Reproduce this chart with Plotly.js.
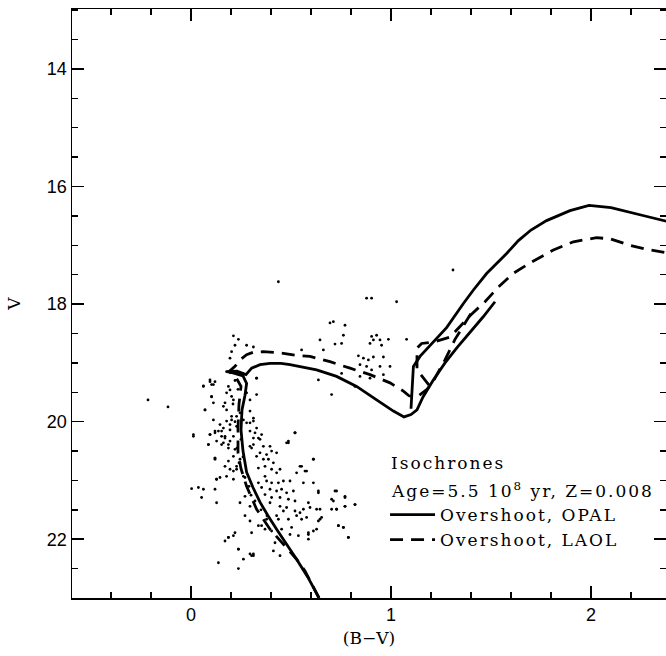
<!DOCTYPE html>
<html>
<head>
<meta charset="utf-8">
<script src="https://cdn.plot.ly/plotly-3.0.1.min.js"></script>
<style>
html,body{margin:0;padding:0;background:#fff;}
#chart{width:666px;height:656px;}
#chart .legend text, #chart .annotation-text{letter-spacing:2px;}
#chart .legend .scrollbox, #chart .legend g{clip-path:none !important;}
</style>
</head>
<body>
<div id="chart"></div>
<script>
// Isochrone: Overshoot, OPAL (solid). null = pen lift
const opalBV = [0.64,0.585,0.528,0.475,0.428,0.385,0.345,0.31,0.278,0.26,0.25,0.255,0.27,0.278,0.26,0.21,0.18,0.23,0.275,0.303,0.345,0.395,0.45,0.495,0.545,0.628,0.728,0.828,0.928,1.012,1.065,1.10,1.13,1.16,1.21,1.27,1.33,1.40,1.46,1.52,
  null,
  1.10,1.105,1.112,1.145,1.195,1.278,1.362,1.412,1.478,1.578,1.637,1.70,1.778,1.895,1.99,2.10,2.28,2.40];
const opalV = [23.0,22.65,22.34,22.08,21.83,21.6,21.37,21.12,20.86,20.5,20.14,19.8,19.55,19.35,19.22,19.17,19.15,19.14,19.2,19.09,19.03,19.01,19.01,19.03,19.06,19.12,19.23,19.40,19.63,19.82,19.92,19.88,19.80,19.58,19.30,19.0,18.74,18.46,18.22,17.96,
  null,
  19.78,19.5,19.06,18.89,18.70,18.40,17.99,17.76,17.48,17.14,16.92,16.74,16.58,16.41,16.32,16.36,16.51,16.61];

// Isochrone: Overshoot, LAOL (dashed)
const laolBV = [0.64,0.57,0.528,0.462,0.395,0.328,0.278,0.25,0.235,0.235,0.24,0.25,0.22,0.19,0.22,0.245,0.278,0.31,0.36,0.445,0.545,0.595,0.695,0.795,0.895,0.995,1.062,1.09,1.13,1.18,1.21,1.27,1.32,1.40,
  null,
  1.19,1.13,1.13,1.153,1.22,1.295,1.345,1.40,1.47,1.537,1.61,1.695,1.812,1.912,2.028,2.095,2.195,2.28,2.40];
const laolV = [23.0,22.54,22.34,22.08,21.83,21.49,21.10,20.8,20.53,20.1,19.7,19.4,19.22,19.15,19.06,18.95,18.86,18.82,18.81,18.83,18.88,18.89,18.98,19.09,19.20,19.34,19.48,19.56,19.58,19.45,19.32,18.95,18.60,18.16,
  null,
  19.38,19.12,18.75,18.67,18.64,18.56,18.38,18.18,17.96,17.71,17.48,17.30,17.08,16.94,16.87,16.89,17.0,17.07,17.14];

// Observed stars (B-V, V)
const starBV = [0.095,0.12,0.137,0.153,0.087,0.162,0.195,0.212,0.278,0.312,0.295,0.32,0.337,0.353,0.312,0.295,0.362,0.395,0.345,0.378,0.403,0.387,0.412,0.37,0.337,0.403,0.445,0.428,0.37,0.337,0.378,0.403,0.437,0.462,0.495,0.353,0.395,0.428,0.453,0.478,0.512,0.37,0.403,0.445,0.487,0.52,0.395,0.445,0.478,0.52,0.545,0.562,0.462,0.528,0.553,0.578,0.487,0.428,0.587,0.595,0.637,0.612,0.562,0.545,0.578,0.528,0.612,0.52,0.487,0.428,0.12,0.128,0.12,0.062,0.053,0.128,0.212,0.212,0.245,0.27,0.295,0.337,0.37,0.403,0.453,0.503,0.495,0.537,0.587,0.628,0.628,0.645,0.653,0.637,0.703,0.728,0.728,0.712,0.77,0.77,0.82,0.737,0.762,0.787,0.587,0.42,0.462,0.17,0.212,0.187,0.237,0.303,0.312,0.445,0.437,0.378,0.353,0.303,0.295,0.27,0.262,0.228,0.245,0.22,0.187,0.17,0.228,0.262,0.203,
  -0.115,0.062,0.103,0.12,0.095,0.103,0.112,0.07,0.112,0.145,0.12,0.153,0.17,0.162,0.128,0.153,0.187,0.195,0.178,0.195,0.187,0.203,0.212,0.17,0.178,0.162,0.203,0.178,0.195,0.228,0.278,0.295,0.295,0.328,0.328,0.312,0.295,0.328,0.312,0.345,0.303,0.328,0.362,0.12,0.212,0.228,0.195,0.178,0.145,0.187,0.17,
  0.212,0.237,0.278,0.22,0.312,0.195,0.203,0.695,0.712,0.77,0.762,0.753,0.72,0.645,0.662,0.553,0.878,0.903,0.903,0.928,0.912,0.895,0.945,0.953,0.987,1.078,0.837,0.862,0.887,0.912,0.962,0.845,0.878,0.903,0.945,0.995,0.962,0.895,0.845,0.753,0.637,0.82,0.52,0.487,0.328,0.178,0.062,0.095,0.112,0.103,0.07,0.012,0.437,1.028,0.703,
  0.012,0.095,0.087,0.12,0.128,0.003,0.037,0.187,0.22,0.137,0.237,0.237,0.262,0.295,0.312,0.412,0.478,0.52,0.612,0.553,0.57,0.637,0.72,0.703,0.77,0.728,0.77,0.82,0.737,0.762,0.787,0.645,0.612,0.587,
  -0.215,1.31,0.22,0.235,0.21,0.245,0.22,0.25,0.23,0.26,0.24,0.27,0.29,0.30,0.32,0.35,0.38];
const starV = [20.22,20.19,20.16,20.25,20.39,20.36,20.14,20.25,20.02,19.99,20.16,20.19,20.28,20.22,20.39,20.42,20.42,20.42,20.53,20.56,20.50,20.64,20.70,20.76,20.79,20.81,20.81,20.87,20.93,21.04,21.01,21.04,21.04,21.01,21.01,21.12,21.15,21.18,21.15,21.21,21.18,21.24,21.29,21.29,21.32,21.35,21.38,21.44,21.46,21.52,21.55,21.49,21.52,21.60,21.66,21.63,21.66,21.60,21.38,21.46,21.21,21.04,21.04,20.76,20.84,20.87,20.64,20.19,20.36,20.53,20.64,20.98,21.15,21.15,21.29,21.38,20.84,20.98,21.38,21.60,21.69,21.77,21.83,21.86,21.83,21.80,21.92,21.94,21.89,21.83,21.49,21.49,21.63,21.69,21.49,21.49,21.18,21.35,21.29,21.44,21.41,21.77,21.80,21.97,22.00,22.06,22.08,22.03,21.94,21.97,22.17,22.28,22.25,22.28,21.66,21.66,21.77,21.89,21.44,21.27,20.93,20.76,20.64,20.47,20.39,20.28,20.08,19.97,19.97,
  19.75,19.39,19.37,19.32,19.29,19.58,19.68,19.80,19.97,20.05,20.16,20.16,20.25,20.11,20.33,20.39,20.45,20.33,19.51,19.46,19.40,19.57,19.63,19.68,19.80,19.74,19.91,19.99,20.05,19.91,19.51,19.63,19.82,19.54,19.26,19.94,20.02,20.11,20.28,20.30,20.45,20.59,20.64,20.62,20.59,20.81,20.81,20.93,20.95,20.67,20.76,
  18.54,18.60,18.70,18.70,18.73,18.92,18.81,18.32,18.30,18.36,18.53,18.67,18.68,18.61,18.78,18.78,17.90,17.90,18.55,18.53,18.61,18.67,18.61,18.70,18.60,18.60,18.88,18.92,18.95,18.90,18.90,19.03,19.06,19.12,19.06,19.06,19.20,19.26,19.23,19.18,19.29,19.40,20.19,20.33,19.26,19.15,19.40,19.32,19.37,19.57,19.80,20.22,17.62,17.96,19.54,
  20.25,20.22,20.39,20.62,20.98,21.14,21.12,21.97,21.89,22.40,22.17,22.50,22.34,22.25,22.28,22.20,20.36,20.19,20.64,20.76,20.84,21.18,21.18,21.32,21.27,21.49,21.44,21.41,21.77,21.80,21.97,21.66,21.86,21.92,
  19.63,17.42,19.30,19.45,19.70,19.85,20.00,20.30,20.45,20.60,20.70,20.95,21.10,21.25,21.35,21.50,21.60];

const xTicks = [0, 1, 2];
const yTicks = [14, 16, 18, 20, 22];
const legendHeading = ['Isochrones', 'Age=5.5 10<sup>8</sup> yr, Z=0.008'];
const seriesNames = ['Overshoot, OPAL', 'Overshoot, LAOL'];

const serif = 'DejaVu Serif, Liberation Serif, serif';
const sans = 'Liberation Sans, Arial, sans-serif';

const traces = [
  {x: starBV, y: starV, type: 'scatter', mode: 'markers', showlegend: false,
   marker: {color: '#000', size: 2.8, symbol: 'circle'}, hoverinfo: 'skip'},
  {x: opalBV, y: opalV, type: 'scatter', mode: 'lines', name: seriesNames[0],
   connectgaps: false, line: {color: '#000', width: 2.8, dash: 'solid'}},
  {x: laolBV, y: laolV, type: 'scatter', mode: 'lines', name: seriesNames[1],
   connectgaps: false, line: {color: '#000', width: 2.8, dash: '13px,8px'}}
];

const layout = {
  width: 666, height: 656,
  margin: {l: 72, r: 0, t: 9, b: 58},
  paper_bgcolor: '#fff', plot_bgcolor: '#fff',
  showlegend: true,
  legend: {
    x: 0.527, y: 0.1714, xanchor: 'left', yanchor: 'top',
    bgcolor: 'rgba(0,0,0,0)', borderwidth: 0,
    font: {family: serif, size: 17, color: '#000'},
    tracegroupgap: 0, itemwidth: 45
  },
  annotations: [
    {xref: 'paper', yref: 'paper', x: 0.533, y: 0.2292, xanchor: 'left', yanchor: 'middle', align: 'left',
     showarrow: false, text: legendHeading[0], font: {family: serif, size: 17, color: '#000'}},
    {xref: 'paper', yref: 'paper', x: 0.533, y: 0.1834, xanchor: 'left', yanchor: 'middle', align: 'left',
     showarrow: false, text: legendHeading[1], font: {family: serif, size: 17, color: '#000'}}
  ],
  xaxis: {
    range: [-0.595, 2.375], showgrid: false, zeroline: false,
    tickmode: 'array', tickvals: xTicks, ticktext: xTicks.map(String),
    ticks: 'inside', ticklen: 12, tickwidth: 1.5, tickcolor: '#000',
    minor: {dtick: 0.2, tick0: 0, ticks: 'inside', ticklen: 6, tickwidth: 1.5, tickcolor: '#000'},
    showline: true, linecolor: '#000', linewidth: 1.5, mirror: 'ticks',
    tickfont: {family: sans, size: 18, color: '#000'},
    title: {text: '(B\u2212V)', font: {family: serif, size: 17, color: '#000'}, standoff: 8}
  },
  yaxis: {
    range: [23.0, 12.98], showgrid: false, zeroline: false,
    tickmode: 'array', tickvals: yTicks, ticktext: yTicks.map(String),
    ticks: 'inside', ticklen: 12, tickwidth: 1.5, tickcolor: '#000',
    minor: {dtick: 0.5, tick0: 0, ticks: 'inside', ticklen: 6, tickwidth: 1.5, tickcolor: '#000'},
    showline: true, linecolor: '#000', linewidth: 1.5, mirror: 'ticks',
    tickfont: {family: sans, size: 18, color: '#000'},
    title: {text: 'V', font: {family: serif, size: 17, color: '#000'}, standoff: 22}
  }
};

Plotly.newPlot('chart', traces, layout, {staticPlot: true, displayModeBar: false});
</script>
</body>
</html>
